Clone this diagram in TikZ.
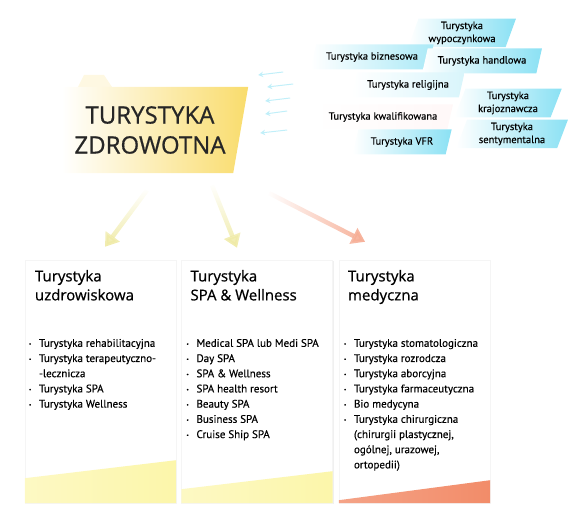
\documentclass[tikz,border=0pt]{standalone}
\usepackage{fontspec}
\setmainfont{PT Sans}[FakeBold=0.3]
\newfontfamily\headfont{Open Sans}[FakeBold=0.7]
\usetikzlibrary{arrows.meta,shapes.geometric,shadows,fadings}

\definecolor{sunyellow}{RGB}{249,220,108}
\definecolor{paleyellow}{RGB}{252,246,170}
\definecolor{salmon}{RGB}{242,140,105}
\definecolor{skycyan}{RGB}{100,215,240}

\newcommand{\bul}{\makebox[10pt][l]{\raisebox{1.2pt}{\tiny\textbullet}}}
\newcommand{\nobul}{\hspace*{10pt}}

\begin{document}
\begin{tikzpicture}[x=1pt, y=-1pt,
    tag/.style={trapezium, trapezium left angle=70, trapezium right angle=110,
      trapezium stretches=true, left color=white, right color=skycyan!75,
      align=center, font=\fontsize{10.5}{13}\selectfont, inner xsep=10pt,
      inner ysep=3pt, minimum height=25pt},
    card/.style={rectangle, fill=white, draw=black!4, minimum width=151pt,
      minimum height=243pt,
      drop shadow={opacity=0.12, shadow xshift=1.2pt, shadow yshift=-1.2pt}},
    cardtitle/.style={anchor=north west, align=left, inner sep=0pt,
      font=\headfont\fontsize{15}{19}\selectfont},
    cardlist/.style={anchor=north west, align=left, inner sep=0pt,
      font=\fontsize{11}{15.2}\selectfont},
    bigarrow/.style={line width=4.5pt, -{Triangle[length=13pt,width=17pt]}},
    inarrow/.style={skycyan!40, line width=1pt, -{Stealth[length=5pt,width=5.5pt]}}]

  % Frame
  \useasboundingbox (0,0) rectangle (575,518);

  % Main box
  \node[rectangle, minimum width=176pt, minimum height=86pt, inner sep=0pt] (main) at (150,130) {};
  \fill[sunyellow!20] (78,87) -- (84,75) -- (104,75) -- (112,87) -- cycle;
  \shade[left color=white, right color=sunyellow]
    (main.north west) -- ([xshift=10]main.north east) -- ([xshift=-5]main.south east) -- (main.south west) -- cycle;
  \node[align=center, font=\headfont\fontsize{24}{30}\selectfont, text=black!85] at (main.center) {TURYSTYKA\\ZDROWOTNA};

  % Incoming arrows
  \foreach \dy/\dxa/\dxb in {-55/20/45, -43/29/55, -29/27/52, -16/27/49, 3/22/49}
    \draw[inarrow] ([shift={(\dxb,\dy-3)}]main.east) -- ([shift={(\dxa,\dy)}]main.east);

  % Other kinds of tourism
  \node[tag] (wyp) at (462,33) {Turystyka\\wypoczynkowa};
  \node[tag, right color=skycyan!55] (biz) at (372,57) {Turystyka biznesowa};
  \node[tag] (han) at (482,61) {Turystyka handlowa};
  \node[tag, right color=skycyan!25] (rel) at (408,85) {Turystyka religijna};
  \node[tag, right color=red!3] (kwa) at (383,117) {Turystyka kwalifikowana};
  \node[tag, minimum width=112pt] (sen) at (512,134) {Turystyka\\sentymentalna};
  \node[tag, minimum width=108pt] (kra) at (508,103) {Turystyka\\krajoznawcza};
  \node[tag, minimum width=100pt] (vfr) at (402,142) {Turystyka VFR};

  % Cards
  \node[card] (card1) at (100.5,381.5) {};
  \node[card] (card2) at (257,381.5) {};
  \node[card] (card3) at (414.5,381.5) {};

  % Bands
  \shade[left color=paleyellow!70, right color=paleyellow]
    (card1.south west) -- ([yshift=25]card1.south west) -- ([yshift=43]card1.south east) -- (card1.south east) -- cycle;
  \shade[left color=paleyellow!70, right color=paleyellow]
    (card2.south west) -- ([yshift=14]card2.south west) -- ([yshift=32]card2.south east) -- (card2.south east) -- cycle;
  \shade[left color=salmon!80, right color=salmon]
    (card3.south west) -- ([yshift=3]card3.south west) -- ([yshift=23]card3.south east) -- (card3.south east) -- cycle;

  % Arrows to cards
  \draw[bigarrow, paleyellow!90!gray, path fading=north] ([shift={(-3,17)}]main.south) -- ([shift={(4.5,-13)}]card1.north);
  \draw[bigarrow, paleyellow!90!gray, path fading=north] ([shift={(62,12)}]main.south) -- ([shift={(-20,-12)}]card2.north);
  \draw[bigarrow, salmon!70, path fading=west] ([shift={(119,20)}]main.south) -- ([shift={(-49.5,-18)}]card3.north);

  % Card titles
  \node[cardtitle] (t1) at ([shift={(10,10)}]card1.north west) {Turystyka\\uzdrowiskowa};
  \node[cardtitle] (t2) at ([shift={(9,10)}]card2.north west) {Turystyka\\SPA \& Wellness};
  \node[cardtitle] (t3) at ([shift={(9,10)}]card3.north west) {Turystyka\\medyczna};

  % Card lists
  \node[cardlist] (l1) at ([shift={(4,79)}]card1.north west) {%
    \bul Turystyka rehabilitacyjna\\
    \bul Turystyka terapeutyczno-\\
    \nobul -lecznicza\\
    \bul Turystyka SPA\\
    \bul Turystyka Wellness};
  \node[cardlist] (l2) at ([shift={(5,79)}]card2.north west) {%
    \bul Medical SPA lub Medi SPA\\
    \bul Day SPA\\
    \bul SPA \& Wellness\\
    \bul SPA health resort\\
    \bul Beauty SPA\\
    \bul Business SPA\\
    \bul Cruise Ship SPA};
  \node[cardlist] (l3) at ([shift={(5,79)}]card3.north west) {%
    \bul Turystyka stomatologiczna\\
    \bul Turystyka rozrodcza\\
    \bul Turystyka aborcyjna\\
    \bul Turystyka farmaceutyczna\\
    \bul Bio medycyna\\
    \bul Turystyka chirurgiczna\\
    \nobul (chirurgii plastycznej,\\
    \nobul ogólnej, urazowej,\\
    \nobul ortopedii)};

\end{tikzpicture}
\end{document}
